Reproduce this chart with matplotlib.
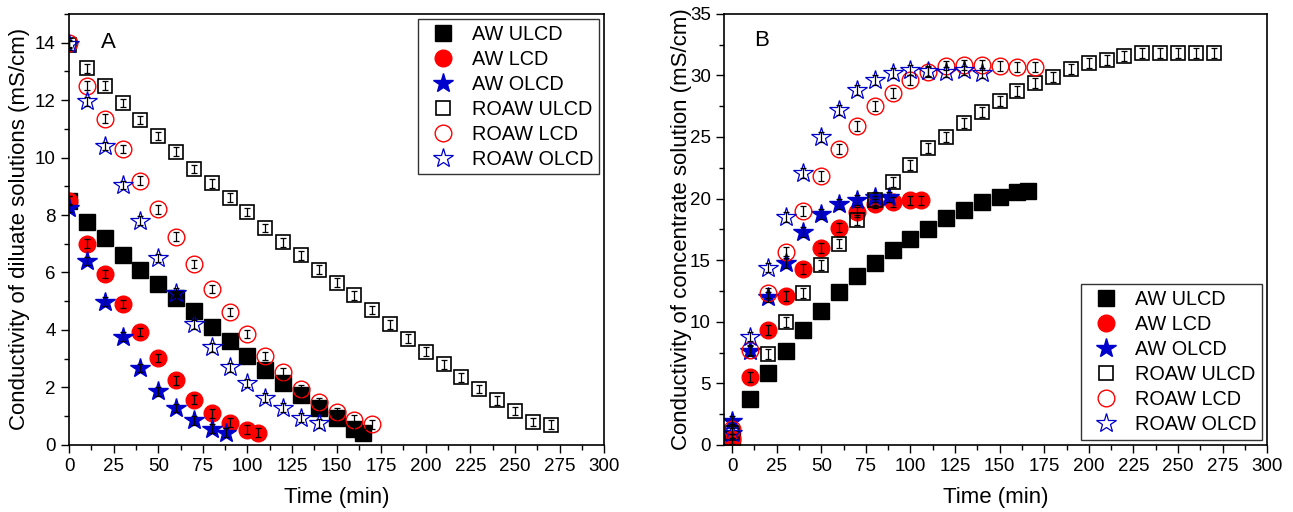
import matplotlib
matplotlib.use('Agg')
import matplotlib.pyplot as plt
from matplotlib.ticker import MultipleLocator

plt.rcParams['font.family'] = ['Liberation Sans', 'DejaVu Sans']

# ---- Panel A: diluate conductivity (mS/cm) vs time (min)
a_t_aw_ulcd = [0, 10, 20, 30, 40, 50, 60, 70, 80, 90, 100, 110, 120, 130, 140, 150, 160, 165]
a_aw_ulcd = [8.5, 7.75, 7.2, 6.6, 6.1, 5.6, 5.1, 4.65, 4.1, 3.6, 3.1, 2.6, 2.15, 1.75, 1.3, 0.95, 0.55, 0.42]

a_t_aw_lcd = [0, 10, 20, 30, 40, 50, 60, 70, 80, 90, 100, 106]
a_aw_lcd = [8.5, 7.0, 5.95, 4.9, 3.93, 3.03, 2.25, 1.58, 1.1, 0.78, 0.53, 0.43]

a_t_aw_olcd = [0, 10, 20, 30, 40, 50, 60, 70, 80, 88]
a_aw_olcd = [8.25, 6.4, 4.98, 3.77, 2.68, 1.86, 1.28, 0.85, 0.57, 0.43]

a_t_roaw_ulcd = [0, 10, 20, 30, 40, 50, 60, 70, 80, 90, 100, 110, 120, 130, 140, 150, 160,
                 170, 180, 190, 200, 210, 220, 230, 240, 250, 260, 270]
a_roaw_ulcd = [13.9, 13.1, 12.5, 11.9, 11.3, 10.75, 10.2, 9.6, 9.1, 8.6, 8.1, 7.55, 7.05, 6.6,
               6.1, 5.65, 5.2, 4.7, 4.2, 3.7, 3.25, 2.8, 2.35, 1.95, 1.55, 1.18, 0.8, 0.7]

a_t_roaw_lcd = [0, 10, 20, 30, 40, 50, 60, 70, 80, 90, 100, 110, 120, 130, 140, 150, 160, 170]
a_roaw_lcd = [14.0, 12.5, 11.35, 10.3, 9.2, 8.2, 7.25, 6.3, 5.43, 4.63, 3.86, 3.1, 2.54, 1.95,
              1.5, 1.15, 0.88, 0.72]

a_t_roaw_olcd = [0, 10, 20, 30, 40, 50, 60, 70, 80, 90, 100, 110, 120, 130, 140]
a_roaw_olcd = [13.95, 11.95, 10.4, 9.05, 7.8, 6.5, 5.3, 4.2, 3.4, 2.7, 2.15, 1.65, 1.3, 0.95, 0.75]

# ---- Panel B: concentrate conductivity (mS/cm) vs time (min)
b_t_aw_ulcd = [0, 10, 20, 30, 40, 50, 60, 70, 80, 90, 100, 110, 120, 130, 140, 150, 160, 166]
b_aw_ulcd = [0.5, 3.7, 5.8, 7.6, 9.35, 10.9, 12.4, 13.7, 14.8, 15.85, 16.75, 17.55, 18.4,
             19.05, 19.7, 20.1, 20.55, 20.6]

b_t_aw_lcd = [0, 10, 20, 30, 40, 50, 60, 70, 80, 90, 100, 106]
b_aw_lcd = [0.45, 5.5, 9.35, 12.1, 14.3, 16.0, 17.65, 18.9, 19.6, 19.75, 19.85, 19.85]

b_t_aw_olcd = [0, 10, 20, 30, 40, 50, 60, 70, 80, 88]
b_aw_olcd = [1.95, 7.6, 12.0, 14.8, 17.3, 18.75, 19.55, 19.9, 20.1, 20.15]

b_t_roaw_ulcd = [0, 20, 30, 40, 50, 60, 70, 80, 90, 100, 110, 120, 130, 140, 150, 160, 170,
                 180, 190, 200, 210, 220, 230, 240, 250, 260, 270]
b_roaw_ulcd = [1.0, 7.4, 10.0, 12.3, 14.6, 16.35, 18.25, 19.85, 21.35, 22.7, 24.1, 25.0, 26.15,
               27.05, 27.9, 28.7, 29.4, 29.9, 30.5, 31.0, 31.25, 31.6, 31.8, 31.85, 31.85, 31.85, 31.8]

b_t_roaw_lcd = [0, 10, 20, 30, 40, 50, 60, 70, 80, 90, 100, 110, 120, 130, 140, 150, 160, 170]
b_roaw_lcd = [1.3, 7.7, 12.3, 15.7, 19.0, 21.8, 24.0, 25.9, 27.5, 28.6, 29.6, 30.3, 30.8, 30.85,
              30.85, 30.75, 30.7, 30.65]

b_t_roaw_olcd = [0, 10, 20, 30, 40, 50, 60, 70, 80, 90, 100, 110, 120, 130, 140]
b_roaw_olcd = [1.0, 8.8, 14.4, 18.5, 22.1, 25.0, 27.2, 28.8, 29.6, 30.2, 30.45, 30.35, 30.3,
               30.4, 30.2]

labels = ['AW ULCD', 'AW LCD', 'AW OLCD', 'ROAW ULCD', 'ROAW LCD', 'ROAW OLCD']

styles = [
    dict(marker='s', ms=11, mfc='black', mec='black'),
    dict(marker='o', ms=12, mfc='red', mec='red'),
    dict(marker='*', ms=15, mfc='#0000cc', mec='#0000cc'),
    dict(marker='s', ms=10.5, mfc='none', mec='black', mew=1.2),
    dict(marker='o', ms=12, mfc='none', mec='red', mew=1.0),
    dict(marker='*', ms=15, mfc='none', mec='#0000cc', mew=0.9),
]

fig = plt.figure(figsize=(12.93, 5.12), dpi=100)
ax_a = fig.add_axes([0.0534, 0.131, 0.4138, 0.842])
ax_b = fig.add_axes([0.560, 0.131, 0.420, 0.842])

legend_kw = dict(fontsize=14.3, frameon=True, fancybox=False, edgecolor='black',
                 borderaxespad=0.25, handletextpad=0.5, labelspacing=0.3, borderpad=0.3,
                 handlelength=1.9)


def draw_panel(ax, series, err):
    for (t, y), lab, st in zip(series, labels, styles):
        ax.plot(t, y, linestyle='none', label=lab, zorder=2, **st)
    # error bars on top of the symbols
    for t, y in series:
        ax.errorbar(t, y, yerr=err, fmt='none', ecolor='black', elinewidth=0.9,
                    capsize=2.3, capthick=0.9, zorder=3)
    ax.set_xlabel('Time (min)', fontsize=16)
    ax.xaxis.set_label_coords(0.5, -0.097)
    ax.xaxis.set_major_locator(MultipleLocator(25))
    ax.xaxis.set_minor_locator(MultipleLocator(12.5))
    ax.tick_params(which='both', direction='out', top=False, right=False, labelsize=13.5)
    ax.tick_params(which='major', length=6, width=1)
    ax.tick_params(which='minor', length=3.5, width=1)
    for sp in ax.spines.values():
        sp.set_linewidth(1.2)
    leg = ax.legend(**legend_kw)
    leg.get_frame().set_linewidth(1.0)
    return leg


series_a = [(a_t_aw_ulcd, a_aw_ulcd), (a_t_aw_lcd, a_aw_lcd), (a_t_aw_olcd, a_aw_olcd),
            (a_t_roaw_ulcd, a_roaw_ulcd), (a_t_roaw_lcd, a_roaw_lcd), (a_t_roaw_olcd, a_roaw_olcd)]
series_b = [(b_t_aw_ulcd, b_aw_ulcd), (b_t_aw_lcd, b_aw_lcd), (b_t_aw_olcd, b_aw_olcd),
            (b_t_roaw_ulcd, b_roaw_ulcd), (b_t_roaw_lcd, b_roaw_lcd), (b_t_roaw_olcd, b_roaw_olcd)]

legend_kw['loc'] = 'upper right'
draw_panel(ax_a, series_a, 0.15)
ax_a.set_xlim(0, 300)
ax_a.set_ylim(0, 15)
ax_a.yaxis.set_major_locator(MultipleLocator(2))
ax_a.yaxis.set_minor_locator(MultipleLocator(1))
ax_a.set_yticks([0, 2, 4, 6, 8, 10, 12, 14])
ax_a.set_ylabel('Conductivity of diluate solutions (mS/cm)', fontsize=16)
ax_a.yaxis.set_label_coords(-0.073, 0.5)
ax_a.text(22, 14.0, 'A', fontsize=16, ha='center', va='center')

legend_kw['loc'] = 'lower right'
draw_panel(ax_b, series_b, 0.4)
ax_b.set_xlim(-4.5, 300)
ax_b.set_ylim(0, 35)
ax_b.set_xticks(range(0, 301, 25))
ax_b.yaxis.set_major_locator(MultipleLocator(5))
ax_b.yaxis.set_minor_locator(MultipleLocator(2.5))
ax_b.set_ylabel('Conductivity of concentrate solution (mS/cm)', fontsize=16)
ax_b.yaxis.set_label_coords(-0.059, 0.5)
ax_b.text(16.5, 32.8, 'B', fontsize=16, ha='center', va='center')

fig.savefig('out.png', dpi=100)
